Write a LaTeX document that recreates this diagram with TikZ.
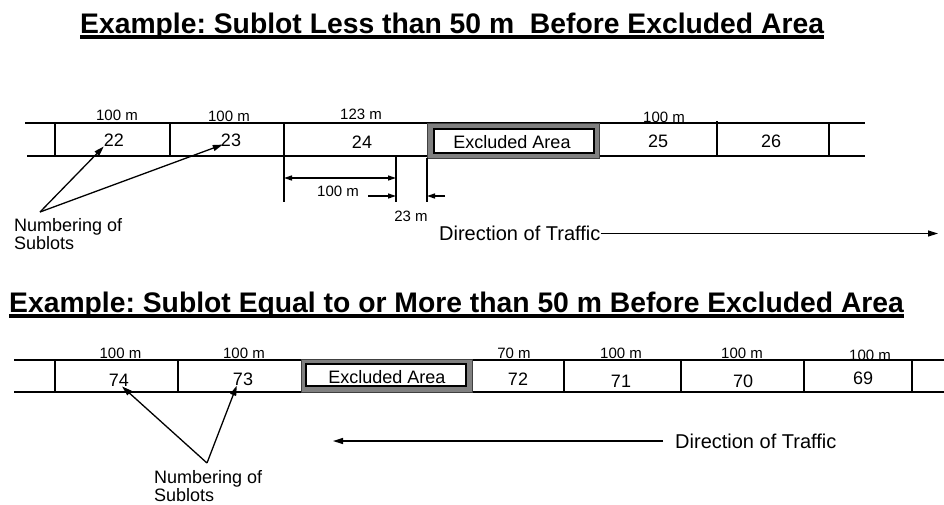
\documentclass[tikz,border=0pt]{standalone}
\usepackage{fontspec}
\setmainfont{Liberation Sans}
\usetikzlibrary{arrows.meta}
\frenchspacing
\begin{document}
\begin{tikzpicture}[x=1pt,y=-1pt,
  road/.style={line width=1.6pt},
  lbl/.style={font=\fontsize{15}{16}\selectfont, inner sep=0pt},
  num/.style={font=\fontsize{18}{20}\selectfont, inner sep=0pt},
  note/.style={font=\fontsize{18}{18}\selectfont, inner sep=0pt, align=left, anchor=north west},
  dirtxt/.style={font=\fontsize{20}{22}\selectfont, inner sep=0pt},
  ttl/.style={font=\fontsize{28.3}{30}\selectfont\bfseries, inner sep=0pt, anchor=base west},
  arr/.style={line width=1.3pt,-{Triangle[length=10pt,width=6pt]}},
  dimarr/.style={line width=1.3pt,-{Triangle[length=8pt,width=5pt]}},
  dimdbl/.style={line width=1.3pt,{Triangle[length=8pt,width=5pt]}-{Triangle[length=8pt,width=5pt]}},
  exouter/.style={fill=black!50, draw=black!75, line width=0.8pt},
  exinner/.style={fill=white, draw=black, line width=1.5pt},
]
\useasboundingbox (0,0) rectangle (944,504);

% ---------------- Title 1 ----------------
\node[ttl] (t1) at (80,33) {Example: Sublot Less than 50 m\ \ Before Excluded Area};
\draw[line width=4pt] ([yshift=-4pt]t1.base west) -- ([yshift=-4pt]t1.base east);

% ---------------- Top road ----------------
\draw[road] (25,123) -- (865,123);
\draw[road] (27,156) -- (865,156);
\foreach \x in {55,170,284,829} \draw[road] (\x,123) -- (\x,156);
\draw[road] (717,121) -- (717,156);
\draw[exouter] (427,123) rectangle (599,158);
\draw[exinner] (434,129) rectangle (594,153);

% lengths
\node[lbl] (la1) at (117,115) {100 m};
\node[lbl] (la2) at (229,116.5) {100 m};
\node[lbl] (la3) at (361,114) {123 m};
\node[lbl] (la4) at (664,117) {100 m};

% numbers
\node[num] (n22) at (114,140) {22};
\node[num] (n23) at (231,140) {23};
\node[num] (n24) at (362,142) {24};
\node[num] (ex1) at (512,142) {Excluded Area};
\node[num] (n25) at (658,141) {25};
\node[num] (n26) at (771,141) {26};

% dimension lines
\draw[road] (284,156) -- (284,202);
\draw[road] (396,156) -- (396,202);
\draw[road] (427,158) -- (427,202);
\coordinate (dA) at (284,178);
\coordinate (dB) at (396,178);
\draw[dimdbl] (dA) -- (dB);
\node[lbl] (d100) at (338,191) {100 m};
\coordinate (sA) at (368,196);
\coordinate (sB) at (396,196);
\draw[dimarr] (sA) -- (sB);
\coordinate (sC) at (445,196);
\coordinate (sD) at (427,196);
\draw[dimarr] (sC) -- (sD);
\node[lbl] (d23) at (411,216.5) {23 m};

% direction of traffic
\node[dirtxt, anchor=west] (dir1) at (439,233.5) {Direction of Traffic};
\coordinate (dirEnd1) at (938,233.5);
\draw[arr] (dir1.east) -- (dirEnd1);

% numbering of sublots
\node[note] (nb1) at (14,218) {Numbering of\\Sublots};
\coordinate (apex1) at (40,212);
\draw[arr] (apex1) -- (n22.south west);
\draw[arr] (apex1) -- ([xshift=2pt,yshift=2pt]n23.south west);

% ---------------- Title 2 ----------------
\node[ttl] (t2) at (9,312) {Example: Sublot Equal to or More than 50 m Before Excluded Area};
\draw[line width=4pt] ([yshift=-4pt]t2.base west) -- ([yshift=-4pt]t2.base east);

% ---------------- Bottom road ----------------
\draw[road] (14,360) -- (944,360);
\draw[road] (14,392) -- (944,392);
\foreach \x in {55,178,564,681,804,912} \draw[road] (\x,360) -- (\x,392);
\draw[exouter] (301,359) rectangle (472,392);
\draw[exinner] (306,364) rectangle (466,386);

% lengths
\node[lbl] (lb1) at (120.5,353) {100 m};
\node[lbl] (lb2) at (244,353) {100 m};
\node[lbl] (lb3) at (514,353) {70 m};
\node[lbl] (lb4) at (621,353) {100 m};
\node[lbl] (lb5) at (742,353) {100 m};
\node[lbl] (lb6) at (870,355.5) {100 m};

% numbers
\node[num] (n74) at (119,380) {74};
\node[num] (n73) at (243,379) {73};
\node[num] (ex2) at (387,377) {Excluded Area};
\node[num] (n72) at (518,379) {72};
\node[num] (n71) at (621,381) {71};
\node[num] (n70) at (743,381) {70};
\node[num] (n69) at (863,378) {69};

% direction of traffic
\node[dirtxt, anchor=west] (dir2) at (675,441) {Direction of Traffic};
\coordinate (dirEnd2) at (333,441);
\draw[arr] ([xshift=-12pt]dir2.west) -- (dirEnd2);

% numbering of sublots
\node[note] (nb2) at (154,470) {Numbering of\\Sublots};
\coordinate (apex2) at (207,463);
\draw[arr] (apex2) -- ([xshift=3pt]n74.south);
\draw[arr] (apex2) -- ([xshift=4pt]n73.south west);

\end{tikzpicture}
\end{document}
